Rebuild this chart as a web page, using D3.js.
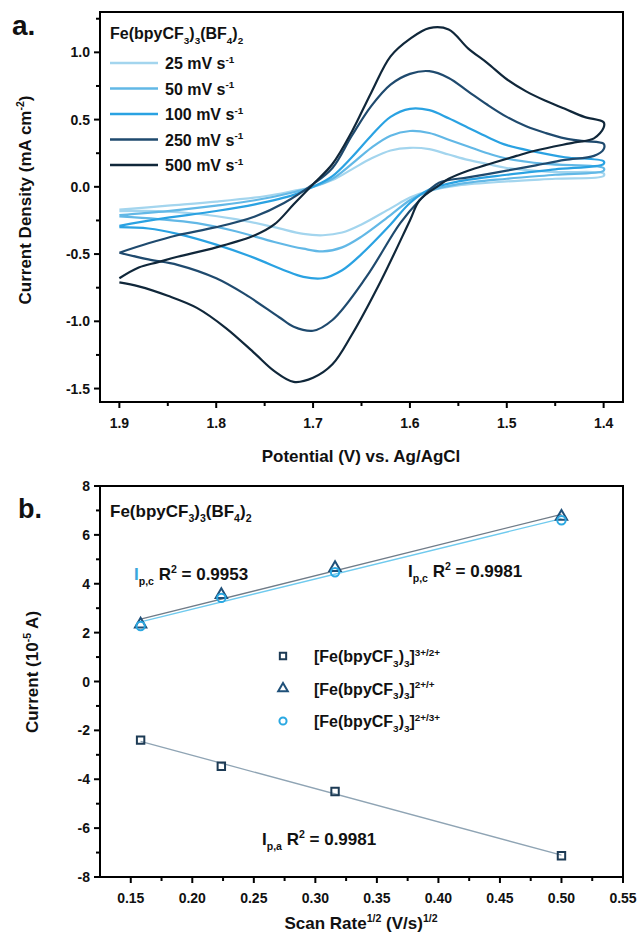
<!DOCTYPE html>
<html><head><meta charset="utf-8">
<script src="https://cdn.jsdelivr.net/npm/d3@7"></script>
</head>
<body style="margin:0;background:#fff">
<svg id="chart" width="642" height="940" font-family="Liberation Sans, Arial, sans-serif" font-weight="bold"></svg>
<script>
const scanRates = ["25", "50", "100", "250", "500"];
const cvColors = ["#a3d5ee", "#62b8e6", "#2aa2e2", "#1f4a6e", "#10273a"];
const cv25 = [[1.90,-0.17],[1.85,-0.14],[1.80,-0.11],[1.75,-0.07],[1.72,-0.03],[1.70,0.0],[1.68,0.05],[1.66,0.13],[1.64,0.21],[1.62,0.27],[1.60,0.29],[1.58,0.28],[1.56,0.24],[1.54,0.20],[1.52,0.17],[1.50,0.14],[1.45,0.11],[1.40,0.10],
  [1.40,0.08],[1.45,0.06],[1.50,0.04],[1.55,0.01],[1.58,-0.03],[1.60,-0.08],[1.62,-0.16],[1.65,-0.28],[1.67,-0.34],[1.69,-0.36],[1.71,-0.35],[1.74,-0.30],[1.78,-0.24],[1.82,-0.20],[1.86,-0.18],[1.90,-0.18]];
const cv50 = [[1.90,-0.21],[1.85,-0.18],[1.80,-0.14],[1.76,-0.10],[1.72,-0.04],[1.70,0.0],[1.68,0.06],[1.66,0.17],[1.64,0.29],[1.62,0.38],[1.60,0.415],[1.58,0.40],[1.56,0.35],[1.54,0.30],[1.52,0.25],[1.50,0.21],[1.46,0.17],[1.40,0.14],
  [1.40,0.12],[1.45,0.09],[1.50,0.06],[1.55,0.02],[1.58,-0.03],[1.60,-0.10],[1.62,-0.21],[1.65,-0.37],[1.67,-0.45],[1.69,-0.48],[1.71,-0.46],[1.74,-0.41],[1.78,-0.33],[1.82,-0.27],[1.86,-0.24],[1.90,-0.22]];
const cv100 = [[1.90,-0.29],[1.86,-0.24],[1.80,-0.18],[1.76,-0.13],[1.72,-0.06],[1.70,0.0],[1.68,0.08],[1.66,0.22],[1.64,0.38],[1.62,0.52],[1.60,0.58],[1.58,0.57],[1.56,0.51],[1.54,0.44],[1.52,0.37],[1.50,0.31],[1.47,0.26],[1.44,0.22],[1.40,0.19],
  [1.40,0.17],[1.45,0.13],[1.50,0.09],[1.55,0.04],[1.58,-0.02],[1.60,-0.12],[1.62,-0.28],[1.65,-0.50],[1.67,-0.62],[1.69,-0.68],[1.71,-0.67],[1.73,-0.62],[1.76,-0.53],[1.80,-0.43],[1.84,-0.35],[1.87,-0.31],[1.90,-0.30]];
const cv250 = [[1.90,-0.49],[1.87,-0.42],[1.84,-0.36],[1.80,-0.30],[1.76,-0.22],[1.73,-0.12],[1.70,0.02],[1.68,0.14],[1.66,0.38],[1.64,0.60],[1.62,0.76],[1.60,0.84],[1.58,0.86],[1.56,0.81],[1.54,0.71],[1.52,0.61],[1.50,0.52],[1.48,0.45],[1.46,0.40],[1.44,0.36],[1.42,0.34],[1.40,0.32],
  [1.40,0.28],[1.41,0.23],[1.44,0.20],[1.47,0.16],[1.50,0.12],[1.54,0.07],[1.57,0.03],[1.59,-0.10],[1.61,-0.27],[1.645,-0.67],[1.68,-0.99],[1.70,-1.07],[1.72,-1.04],[1.735,-0.97],[1.77,-0.80],[1.80,-0.68],[1.84,-0.58],[1.87,-0.54],[1.90,-0.49]];
const cv500 = [[1.90,-0.68],[1.88,-0.60],[1.86,-0.56],[1.84,-0.52],[1.80,-0.45],[1.76,-0.36],[1.74,-0.28],[1.72,-0.13],[1.70,0.02],[1.68,0.17],[1.66,0.41],[1.64,0.70],[1.62,0.97],[1.60,1.10],[1.58,1.18],[1.56,1.17],[1.54,1.03],[1.52,0.92],[1.50,0.80],[1.48,0.71],[1.46,0.64],[1.44,0.58],[1.42,0.52],[1.40,0.48],
  [1.40,0.44],[1.41,0.36],[1.43,0.33],[1.47,0.27],[1.49,0.23],[1.54,0.12],[1.56,0.06],[1.57,0.01],[1.59,-0.10],[1.60,-0.25],[1.63,-0.70],[1.66,-1.10],[1.68,-1.32],[1.70,-1.42],[1.72,-1.45],[1.74,-1.37],[1.76,-1.24],[1.79,-1.05],[1.82,-0.90],[1.85,-0.81],[1.88,-0.74],[1.90,-0.71]];
const cvSeries = [cv25, cv50, cv100, cv250, cv500];
const aXTicks = [1.9, 1.8, 1.7, 1.6, 1.5, 1.4];
const aYTicks = [1.0, 0.5, 0.0, -0.5, -1.0, -1.5];
const aXMinor = [1.85, 1.75, 1.65, 1.55, 1.45];
const aYMinor = [1.25, 0.75, 0.25, -0.25, -0.75, -1.25];

const sqrtScan = [0.158, 0.2236, 0.316, 0.5];
const ip32 = [-2.40, -3.47, -4.50, -7.13];
const ip21 = [2.34, 3.55, 4.65, 6.75];
const ip23 = [2.27, 3.42, 4.47, 6.60];
const bXTicks = [0.15, 0.20, 0.25, 0.30, 0.35, 0.40, 0.45, 0.50, 0.55];
const bYTicks = [-8, -6, -4, -2, 0, 2, 4, 6, 8];
const bXMinor = [0.175, 0.225, 0.275, 0.325, 0.375, 0.425, 0.475, 0.525];
const bYMinor = [7, 5, 3, 1, -1, -3, -5, -7];

const chartSvg = d3.select("#chart");
const INK = "#111111";

function rich(g, px, py, parts, size, anchor, fill) {
  const t = g.append("text").attr("x", px).attr("y", py).attr("font-size", size)
    .attr("text-anchor", anchor || "start").attr("fill", fill || INK);
  let shift = 0;
  parts.forEach(p => {
    const txt = p[0], mode = p[1], col = p[2];
    const target = mode === 1 ? size * 0.3 : mode === 2 ? -size * 0.4 : 0;
    const ts = t.append("tspan").text(txt).attr("dy", target - shift);
    if (mode) ts.attr("font-size", size * 0.62);
    if (col) ts.attr("fill", col);
    shift = target;
  });
  return t;
}

function drawAxes(g, sx, sy, xt, yt, xMinor, yMinor, xfmt, yfmt) {
  const L = d3.min(sx.range()), R = d3.max(sx.range());
  const T = d3.min(sy.range()), B = d3.max(sy.range());
  g.append("path")
    .attr("d", "M" + L + "," + T + "H" + R + "V" + B + "H" + L + "Z")
    .attr("fill", "none").attr("stroke", "#000").attr("stroke-width", 2);
  g.selectAll("line.mx").data(xt.concat(xMinor)).join("line").attr("class", "mx")
    .attr("x1", d => sx(d)).attr("x2", d => sx(d)).attr("y1", B)
    .attr("y2", (d, i) => B + (i < xt.length ? 6 : 4))
    .attr("stroke", "#000").attr("stroke-width", 2);
  g.selectAll("line.my").data(yt.concat(yMinor)).join("line").attr("class", "my")
    .attr("y1", d => sy(d)).attr("y2", d => sy(d)).attr("x1", L)
    .attr("x2", (d, i) => L - (i < yt.length ? 6 : 4))
    .attr("stroke", "#000").attr("stroke-width", 2);
  g.selectAll("text.lx").data(xt).join("text").attr("class", "lx")
    .attr("x", d => sx(d)).attr("y", B + 26).attr("text-anchor", "middle")
    .attr("font-size", 14).attr("fill", INK).text(xfmt);
  g.selectAll("text.ly").data(yt).join("text").attr("class", "ly")
    .attr("x", L - 10).attr("y", d => sy(d) + 5).attr("text-anchor", "end")
    .attr("font-size", 14).attr("fill", INK).text(yfmt);
}

// ================= Panel a =================
const ga = chartSvg.append("g");
const xA = d3.scaleLinear().domain([1.92, 1.38]).range([100, 623]);
const yA = d3.scaleLinear().domain([-1.6, 1.3]).range([402, 12]);
const lineA = d3.line().x(d => xA(d[0])).y(d => yA(d[1])).curve(d3.curveCatmullRom.alpha(0.5));
ga.append("g").selectAll("path").data(cvSeries).join("path")
  .attr("d", lineA).attr("fill", "none")
  .attr("stroke", (d, i) => cvColors[i]).attr("stroke-width", 2.2).attr("stroke-linejoin", "round");
drawAxes(ga.append("g"), xA, yA, aXTicks, aYTicks, aXMinor, aYMinor, d => d.toFixed(1), d => d.toFixed(1));
ga.append("text").attr("x", 12).attr("y", 35).attr("font-size", 28).attr("fill", INK).text("a.");
rich(ga, 110, 39, [["Fe(bpyCF"], ["3", 1], [")"], ["3", 1], ["(BF"], ["4", 1], [")"], ["2", 1]], 16);
scanRates.forEach((s, i) => {
  const cy = 63 + i * 25.5;
  ga.append("line").attr("x1", 110).attr("x2", 158).attr("y1", cy).attr("y2", cy)
    .attr("stroke", cvColors[i]).attr("stroke-width", 2.4);
  rich(ga, 165, cy + 6, [[s + " mV s"], ["-1", 2]], 16);
});
rich(ga, 361, 462, [["Potential (V) vs. Ag/AgCl"]], 17, "middle");
const yla = ga.append("g").attr("transform", "translate(31,200) rotate(-90)");
rich(yla, 0, 0, [["Current Density (mA cm"], ["-2", 2], [")"]], 17, "middle");

// ================= Panel b =================
const gb = chartSvg.append("g");
const xB = d3.scaleLinear().domain([0.125, 0.55]).range([100, 623]);
const yB = d3.scaleLinear().domain([-8, 8]).range([877, 486]);
function fitLine(xs, ys) {
  const mx = d3.mean(xs), my = d3.mean(ys);
  const b = d3.sum(xs, (v, i) => (v - mx) * (ys[i] - my)) / d3.sum(xs, v => (v - mx) * (v - mx));
  const n = xs.length - 1;
  return [[xs[0], my + b * (xs[0] - mx)], [xs[n], my + b * (xs[n] - mx)]];
}
const bSeries = [
  { vals: ip32, stroke: "#1d3b55", line: "#8fa4b4", sym: d3.symbolSquare, size: 55 },
  { vals: ip21, stroke: "#1f5079", line: "#707c88", sym: d3.symbolTriangle, size: 55 },
  { vals: ip23, stroke: "#2aa8e2", line: "#6fcaee", sym: d3.symbolCircle, size: 55 }
];
const lineB = d3.line().x(d => xB(d[0])).y(d => yB(d[1]));
bSeries.forEach(s => {
  gb.append("path").attr("d", lineB(fitLine(sqrtScan, s.vals))).attr("fill", "none")
    .attr("stroke", s.line).attr("stroke-width", 1.3);
});
bSeries.forEach(s => {
  gb.append("g").selectAll("path").data(s.vals).join("path")
    .attr("transform", (d, i) => "translate(" + xB(sqrtScan[i]) + "," + yB(d) + ")")
    .attr("d", d3.symbol(s.sym, s.size)).attr("fill", "none")
    .attr("stroke", s.stroke).attr("stroke-width", 2);
});
drawAxes(gb.append("g"), xB, yB, bXTicks, bYTicks, bXMinor, bYMinor, d => d.toFixed(2), d => String(d));
gb.append("text").attr("x", 18).attr("y", 518).attr("font-size", 27).attr("fill", INK).text("b.");
rich(gb, 110, 517, [["Fe(bpyCF"], ["3", 1], [")"], ["3", 1], ["(BF"], ["4", 1], [")"], ["2", 1]], 17);
rich(gb, 134, 580, [["I", 0, "#3aa6dc"], ["p,c", 1], [" R"], ["2", 2], [" = 0.9953"]], 17);
rich(gb, 408, 577, [["I"], ["p,c", 1], [" R"], ["2", 2], [" = 0.9981"]], 17);
rich(gb, 262, 845, [["I"], ["p,a", 1], [" R"], ["2", 2], [" = 0.9981"]], 17);
const legB = ["3+/2+", "2+/+", "2+/3+"];
bSeries.forEach((s, i) => {
  const cy = 656 + i * 32.5;
  gb.append("path").attr("transform", "translate(283," + cy + ")")
    .attr("d", d3.symbol(s.sym, 40)).attr("fill", "none").attr("stroke", s.stroke).attr("stroke-width", 2);
  rich(gb, 314, cy + 6, [["[Fe(bpyCF"], ["3", 1], [")"], ["3", 1], ["]"], [legB[i], 2]], 16);
});
rich(gb, 361, 929, [["Scan Rate"], ["1/2", 2], [" (V/s)"], ["1/2", 2]], 17, "middle");
const ylb = gb.append("g").attr("transform", "translate(38,672) rotate(-90)");
rich(ylb, 0, 0, [["Current (10"], ["-5", 2], [" A)"]], 17, "middle");
</script>
</body></html>
